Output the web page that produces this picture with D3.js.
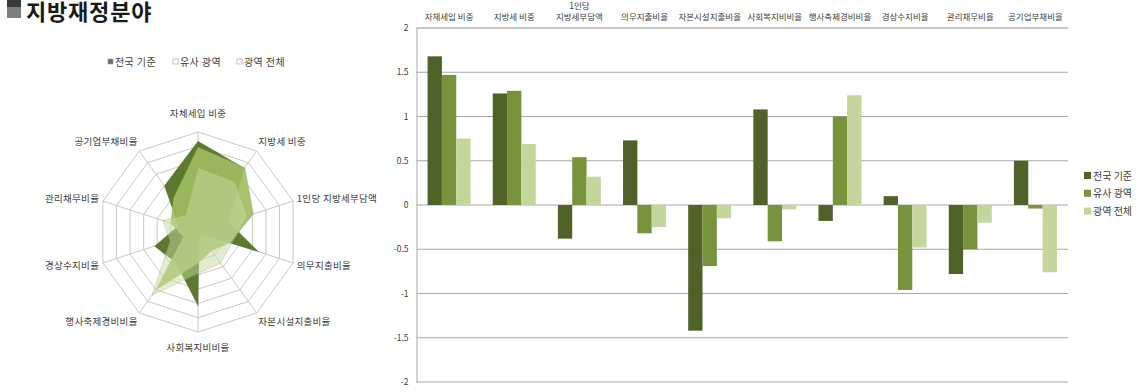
<!DOCTYPE html>
<html><head><meta charset="utf-8">
<script src="https://cdn.jsdelivr.net/npm/d3@7/dist/d3.min.js"></script>
<style>
html,body{margin:0;padding:0;background:#fff;}
svg{display:block;font-family:"Noto Sans CJK KR","Noto Sans",sans-serif;}
</style></head>
<body>
<svg id="c" width="1140" height="392"></svg>
<script>
const title = "지방재정분야";
const categories = ["자체세입 비중","지방세 비중","1인당 지방세부담액","의무지출비율","자본시설지출비율","사회복지비비율","행사축제경비비율","경상수지비율","관리채무비율","공기업부채비율"];
const barLabels = [["자체세입 비중"],["지방세 비중"],["1인당","지방세부담액"],["의무지출비율"],["자본시설지출비율"],["사회복지비비율"],["행사축제경비비율"],["경상수지비율"],["관리채무비율"],["공기업부채비율"]];
const seriesNames = ["전국 기준","유사 광역","광역 전체"];
const nationwide = [1.68,1.26,-0.38,0.73,-1.42,1.08,-0.18,0.10,-0.78,0.50];
const similar    = [1.47,1.29,0.54,-0.32,-0.69,-0.41,1.00,-0.96,-0.50,-0.04];
const allMetro   = [0.75,0.69,0.32,-0.25,-0.15,-0.05,1.24,-0.48,-0.20,-0.76];
const yTicks = [2,1.5,1,0.5,0,-0.5,-1,-1.5,-2];
const radarTicks = [-1.5,-1,-0.5,0,0.5,1,1.5,2];

const seriesVals = [nationwide, similar, allMetro];
const barColors = ["#4f6228","#77933c","#c3d69b"];
const radarColors = ["#5d7830","#a0bd63","#c6d9a0"];

const svg = d3.select("#c");

// Title
svg.append("rect").attr("x",7).attr("y",0).attr("width",14).attr("height",7).attr("fill","#3a3a3a");
svg.append("rect").attr("x",7).attr("y",7).attr("width",14).attr("height",11).attr("fill","#7f7f7f");
svg.append("text").attr("x",26).attr("y",20).attr("font-size",22).attr("letter-spacing",0.8).attr("font-weight","bold").attr("fill","#1a1a1a").text(title);

// ---------- Bar chart ----------
const bx0 = 416.5, bx1 = 1068;
const x0 = d3.scaleBand().domain(categories).range([bx0,bx1]).paddingInner(0.34).paddingOuter(0.17);
const x1 = d3.scaleBand().domain(seriesNames).range([0,x0.bandwidth()]);
const y = d3.scaleLinear().domain([-2,2]).range([382,28]);

const grid = svg.append("g");
grid.selectAll("line").data(yTicks).join("line")
  .attr("x1",bx0).attr("x2",bx1)
  .attr("y1",d=>y(d)).attr("y2",d=>y(d))
  .attr("stroke",d=>d===2?"#c8c8c8":"#a9a9a9")
  .attr("stroke-width",d=>d===2?2:1);

const yAxis = d3.axisLeft(y).tickValues(yTicks).tickSize(0).tickPadding(8).tickFormat(d=>String(d));
const ya = svg.append("g").attr("transform",`translate(${bx0},0)`).call(yAxis);
ya.select(".domain").attr("stroke","#a9a9a9");
ya.selectAll("text").attr("font-size",8.5).attr("fill","#404040").attr("font-family","'Noto Sans CJK KR',sans-serif");

const groups = svg.append("g").selectAll("g").data(categories).join("g")
  .attr("transform",d=>`translate(${x0(d)},0)`);
groups.selectAll("rect").data((d,i)=>seriesNames.map((s,j)=>({s,v:seriesVals[j][i],j}))).join("rect")
  .attr("x",d=>x1(d.s)).attr("width",x1.bandwidth())
  .attr("y",d=>y(Math.max(0,d.v))).attr("height",d=>Math.abs(y(d.v)-y(0)))
  .attr("fill",d=>barColors[d.j]);

// category labels at top
const labs = svg.append("g");
const lineGap = 10.5;
categories.forEach((c,i)=>{
  const lines = barLabels[i];
  const cx = x0(c)+x0.bandwidth()/2;
  lines.forEach((ln,k)=>{
    labs.append("text").attr("x",cx).attr("y",19.5-(lines.length-1-k)*lineGap)
      .attr("text-anchor","middle").attr("font-size",8.5).attr("fill","#404040").text(ln);
  });
});

// legend
const lg = svg.append("g");
seriesNames.forEach((s,i)=>{
  const yy = 176 + i*17.8;
  lg.append("rect").attr("x",1084).attr("y",yy-4).attr("width",7).attr("height",7).attr("fill",barColors[i]);
  lg.append("text").attr("x",1093).attr("y",yy+3.5).attr("font-size",10).attr("fill","#404040").text(s);
});

// ---------- Radar chart ----------
const cx = 198, cy = 232, R = 100;
const r = d3.scaleLinear().domain([-1.5,2]).range([0,R]);
const n = categories.length;
const ang = i => i*2*Math.PI/n;
const pt = (i,rad) => [cx + rad*Math.sin(ang(i)), cy - rad*Math.cos(ang(i))];

const rg = svg.append("g");
radarTicks.forEach(t=>{
  const pts = d3.range(n).map(i=>pt(i,r(t)));
  rg.append("polygon").attr("points",pts.map(p=>p.join(",")).join(" "))
    .attr("fill","none").attr("stroke","#c9c9c9").attr("stroke-width",1);
});
d3.range(n).forEach(i=>{
  const p = pt(i,R);
  rg.append("line").attr("x1",cx).attr("y1",cy).attr("x2",p[0]).attr("y2",p[1]).attr("stroke","#c9c9c9");
});

const radarLine = d3.lineRadial().angle((d,i)=>ang(i)).radius(d=>r(d)).curve(d3.curveLinearClosed);
const opac = [1,0.9,0.5];
seriesVals.forEach((vals,j)=>{
  svg.append("path").attr("transform",`translate(${cx},${cy})`)
    .attr("d",radarLine(vals))
    .attr("fill",radarColors[j]).attr("fill-opacity",opac[j])
    .attr("stroke",j===0?"#54702c":"#8faa55").attr("stroke-width",0.6).attr("stroke-opacity",0.5);
});

// radar labels
const rl = svg.append("g");
categories.forEach((c,i)=>{
  const p = pt(i,R+6);
  const s = Math.sin(ang(i));
  let anchor = Math.abs(s)<0.01 ? "middle" : (s>0?"start":"end");
  let dy = 3;
  if (i===0) dy = -9;
  if (i===5) dy = 13;
  if (i===1||i===9) dy = -1;
  if (i===4||i===6) dy = 7;
  if (i===3||i===7) dy = 4;
  rl.append("text").attr("x",p[0]+(anchor==="middle"?0:(s>0?-2:2))).attr("y",p[1]+dy)
    .attr("text-anchor",anchor).attr("font-size",9.5).attr("letter-spacing",0.3).attr("fill","#404040").text(c);
});

// radar legend
const rlg = svg.append("g");
const rlx = [108,173,237];
seriesNames.forEach((s,i)=>{
  rlg.append("rect").attr("x",rlx[i]).attr("y",59).attr("width",5).attr("height",5)
    .attr("fill",i===0?"#6a6a6a":"#ffffff").attr("stroke","#9a9a9a").attr("stroke-width",0.6);
  rlg.append("text").attr("x",rlx[i]+7).attr("y",65.5).attr("font-size",10).attr("letter-spacing",0.4).attr("fill","#404040").text(s);
});
</script>
</body></html>
